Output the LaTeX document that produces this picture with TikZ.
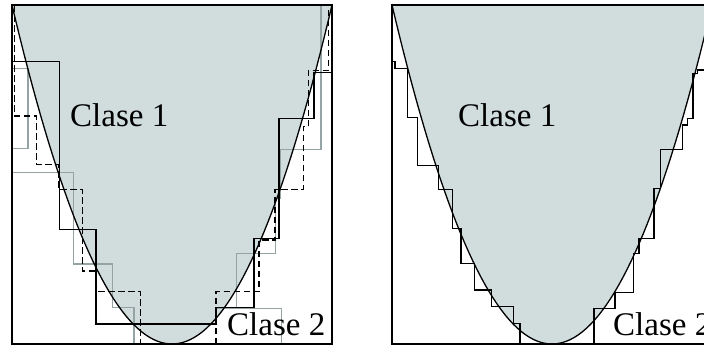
\documentclass[tikz,border=0pt]{standalone}
\usepackage{fontspec}
\setmainfont{Liberation Serif}
\definecolor{cFill}{RGB}{209,220,220}
\definecolor{cGrey}{RGB}{148,163,163}
\tikzset{
	frame/.style={draw=black, line width=1.4pt},
	boundary/.style={line width=1.3pt},
	treeA/.style={line width=1.5pt},
	treeB/.style={line width=1.5pt, dash pattern=on 6.5pt off 3.5pt},
	treeC/.style={draw=cGrey, line width=1.5pt},
	avgtree/.style={line width=1.1pt},
	clase/.style={font=\fontsize{33}{40}\selectfont, inner sep=0pt, anchor=base west},
}
\begin{document}
\begin{tikzpicture}[x=1pt, y=-1pt]
	\useasboundingbox (0,0) rectangle (704,348);
	% class 1 region in both panels
	\foreach \ox in {0,380}{
		\fill[cFill] plot[domain=-1:1, samples=80] ({172+\ox+160*\x},{344-339*\x*\x}) -- cycle;
	}
	% left panel: three single trees
	\draw[treeC] (12,68.3) -- (28,68.3) -- (28,148.3) -- (12,148.3);
	\draw[treeC] (12,172.3) -- (73.3,172.3) -- (73.3,264) -- (112.7,264) -- (112.7,307.3)
		-- (134,307.3) -- (134,344);
	\draw[treeC] (216,308.3) -- (281.7,308.3) -- (281.7,344);
	\draw[treeC] (236.7,308.3) -- (236.7,253.3) -- (275.7,253.3) -- (275.7,198.3) -- (280,198.3)
		-- (280,149.3) -- (321,149.3) -- (321,5);
	\draw[treeB] (14.7,5) -- (14.7,116) -- (36.7,116) -- (36.7,164.3) -- (58.3,164.3) -- (58.3,189.3)
		-- (82.3,189.3) -- (82.3,271) -- (96.7,271) -- (96.7,291.7) -- (140.7,291.7) -- (140.7,344);
	\draw[treeB] (216,344) -- (216,291.7) -- (259,291.7) -- (259,240) -- (275,240) -- (275,189.3)
		-- (303.3,189.3) -- (303.3,126.7) -- (308.3,126.7) -- (308.3,70.7) -- (328.3,70.7) -- (328.3,5);
	\draw[treeA] (12,61.7) -- (59.3,61.7) -- (59.3,229.3) -- (96,229.3) -- (96,324) -- (216,324)
		-- (216,307.3) -- (254,307.3) -- (254,238.3) -- (279,238.3) -- (279,118.3) -- (314,118.3)
		-- (314,72.7) -- (332,72.7);
	% right panel: combined boundary
	\draw[avgtree] (392,61.7) -- (395,61.7) -- (395,68.3) -- (407.7,68.3) -- (407.7,117.3) -- (417.3,117.3)
		-- (417.3,165.7) -- (438.3,165.7) -- (438.3,189.3) -- (452.7,189.3) -- (452.7,228.3) -- (461,228.3)
		-- (461,263.3) -- (474.3,263.3) -- (474.3,290) -- (491.7,290) -- (491.7,306.7) -- (513.3,306.7)
		-- (513.3,323.3) -- (520,323.3) -- (520,344) -- (594,344) -- (594,308.3) -- (615,308.3)
		-- (615,292.3) -- (633.3,292.3) -- (633.3,253.3) -- (639,253.3) -- (639,238.3) -- (654,238.3)
		-- (654,188.3) -- (660.7,188.3) -- (660.7,149.3) -- (682.3,149.3) -- (682.3,125) -- (687.3,125)
		-- (687.3,118.3) -- (693,118.3) -- (693,73.3) -- (697.3,73.3) -- (697.3,70) -- (712,70);
	\foreach \ox in {0,380}{
		\draw[boundary] plot[domain=-1:1, samples=80] ({172+\ox+160*\x},{344-339*\x*\x});
		\draw[frame] (12+\ox,5) rectangle (332+\ox,344);
	}
	\node[clase] (c1L) at (70,126) {Clase 1};
	\node[clase] (c2L) at (227,335) {Clase 2};
	\node[clase] (c1R) at (458,126) {Clase 1};
	\node[clase] (c2R) at (613,335) {Clase 2};
\end{tikzpicture}
\end{document}
